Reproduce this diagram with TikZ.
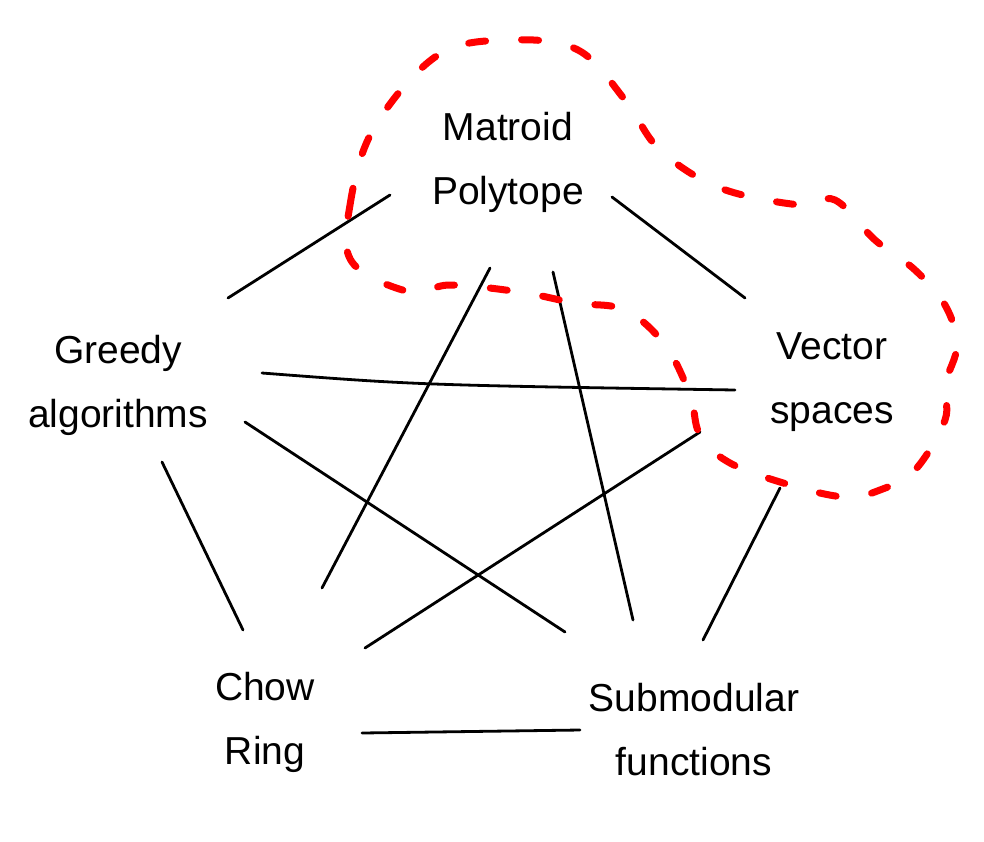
\documentclass[tikz,border=0pt]{standalone}
\usepackage{fontspec}
\setmainfont{Liberation Sans}
\usetikzlibrary{calc}
\begin{document}
\begin{tikzpicture}[x=1pt,y=-1pt,
  lbl/.style={align=center,font=\fontsize{39}{64}\selectfont,inner sep=0pt},
  link/.style={line width=2.8pt,line cap=round},
  redloop/.style={red,line width=7pt,line cap=round,dash pattern=on 17pt off 36pt}]
\useasboundingbox (0,0) rectangle (984,841);
\fill[white] (0,0) rectangle (984,841);
\node[lbl] (mp) at (508,162) {Matroid\\Polytope};
\node[lbl] (gr) at (118,385) {Greedy\\algorithms};
\node[lbl] (vs) at (832,382) {Vector\\spaces};
\node[lbl] (ch) at (265,722) {Chow\\Ring};
\node[lbl] (sm) at (694,730) {Submodular\\functions};
% connectors
\draw[link] ($(mp)+(-118,33)$) -- ($(gr)+(110,-87)$);
\draw[link] ($(mp)+(104,35)$) -- ($(vs)+(-87,-84)$);
\draw[link] ($(mp)+(-18,106)$) -- ($(ch)+(57,-134)$);
\draw[link] ($(mp)+(45,110)$) -- ($(sm)+(-61,-110)$);
\draw[link] ($(gr)+(144,-12)$) .. controls ($(gr)+(300,0)$) .. ($(vs)+(-97,8)$);
\draw[link] ($(gr)+(127,37)$) -- ($(sm)+(-129,-98)$);
\draw[link] ($(gr)+(44,77)$) -- ($(ch)+(-22,-92)$);
\draw[link] ($(vs)+(-132,50)$) -- ($(ch)+(100,-74)$);
\draw[link] ($(vs)+(-52,106)$) -- ($(sm)+(9,-90)$);
\draw[link] ($(ch)+(97,11)$) -- ($(sm)+(-114,0)$);
% red dashed loop
\draw[redloop] plot[smooth cycle, tension=0.6] coordinates {
  (352,262) (350,205) (374,128) (438,55) (510,40) (578,50) (625,100)
  (660,150) (720,188) (800,205) (835,200) (875,240) (915,270) (945,305)
  (957,345) (945,385) (945,420) (915,470) (880,490) (845,497) (790,485)
  (730,463) (700,435) (690,395) (665,345) (625,310) (575,303) (520,292)
  (450,285) (410,292)};
\end{tikzpicture}
\end{document}
